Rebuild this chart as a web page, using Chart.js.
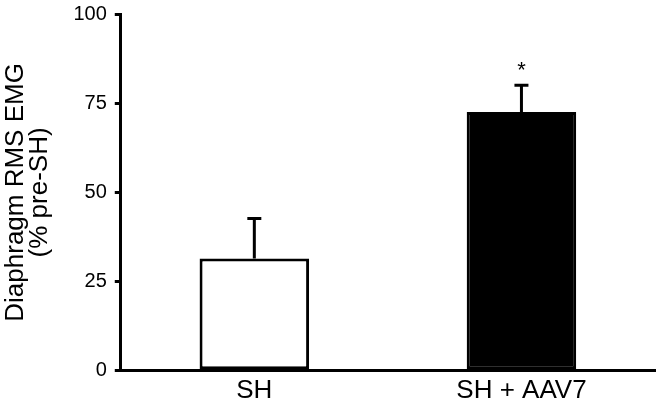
<!DOCTYPE html>
<html>
<head>
    <title>Diaphragm RMS EMG</title>
    <script src="https://cdn.jsdelivr.net/npm/chart.js"></script>
    <style>
        body { margin: 0; background: #fff; }
        .container { width: 662px; height: 407px; }
    </style>
</head>
<body>
<div class="container">
    <canvas id="barChart"></canvas>
</div>

<script>
    const categories = ['SH', 'SH + AAV7'];
    const means = [31.5, 72.5];
    const sems = [11.2, 7.5];
    const marks = ['', '*'];
    const yTicks = [0, 25, 50, 75, 100];

    // upper error bars + significance mark, drawn through the y scale
    const errorBars = {
        id: 'errorBars',
        afterDatasetsDraw(chart) {
            const ctx = chart.ctx;
            const y = chart.scales.y;
            const meta = chart.getDatasetMeta(0);
            ctx.save();
            ctx.strokeStyle = '#000';
            ctx.fillStyle = '#000';
            ctx.lineWidth = 3;
            meta.data.forEach((bar, i) => {
                const top = y.getPixelForValue(means[i] + sems[i]);
                ctx.beginPath();
                ctx.moveTo(bar.x, bar.y);
                ctx.lineTo(bar.x, top);
                ctx.moveTo(bar.x - 7, top);
                ctx.lineTo(bar.x + 7, top);
                ctx.stroke();
                if (marks[i]) {
                    ctx.font = '22px "Liberation Sans", Arial, sans-serif';
                    ctx.textAlign = 'center';
                    ctx.textBaseline = 'alphabetic';
                    ctx.fillText(marks[i], bar.x, top - 8);
                }
            });
            ctx.restore();
        }
    };

    const ctx = document.getElementById('barChart').getContext('2d');
    new Chart(ctx, {
        type: 'bar',
        data: {
            labels: categories,
            datasets: [{
                data: means,
                backgroundColor: ['#ffffff', '#000000'],
                borderColor: '#000',
                borderWidth: 3,
                borderSkipped: false,
                barPercentage: 0.41,
                categoryPercentage: 1
            }]
        },
        options: {
            responsive: true,
            maintainAspectRatio: false,
            animation: false,
            layout: { padding: { top: 14, right: 7, bottom: -3, left: 0 } },
            plugins: {
                legend: { display: false },
                tooltip: { enabled: false }
            },
            scales: {
                x: {
                    grid: { display: false, drawTicks: false },
                    border: { display: true, color: '#000', width: 3 },
                    ticks: {
                        color: '#000',
                        padding: 4,
                        font: { family: '"Liberation Sans", Arial, sans-serif', size: 26 }
                    }
                },
                y: {
                    min: 0,
                    max: 100,
                    afterBuildTicks: axis => { axis.ticks = yTicks.map(v => ({ value: v })); },
                    grid: { drawOnChartArea: false, drawTicks: true, tickLength: 6, color: '#000', lineWidth: 3 },
                    border: { display: true, color: '#000', width: 3 },
                    ticks: {
                        color: '#000',
                        padding: 8,
                        font: { family: '"Liberation Sans", Arial, sans-serif', size: 20, lineHeight: 0.6 }
                    },
                    title: {
                        display: true,
                        text: ['Diaphragm RMS EMG', '(% pre-SH)'],
                        color: '#000',
                        padding: { top: 3, bottom: 13 },
                        font: { family: '"Liberation Sans", Arial, sans-serif', size: 26, lineHeight: 0.95 }
                    }
                }
            }
        },
        plugins: [errorBars]
    });
</script>

</body>
</html>
